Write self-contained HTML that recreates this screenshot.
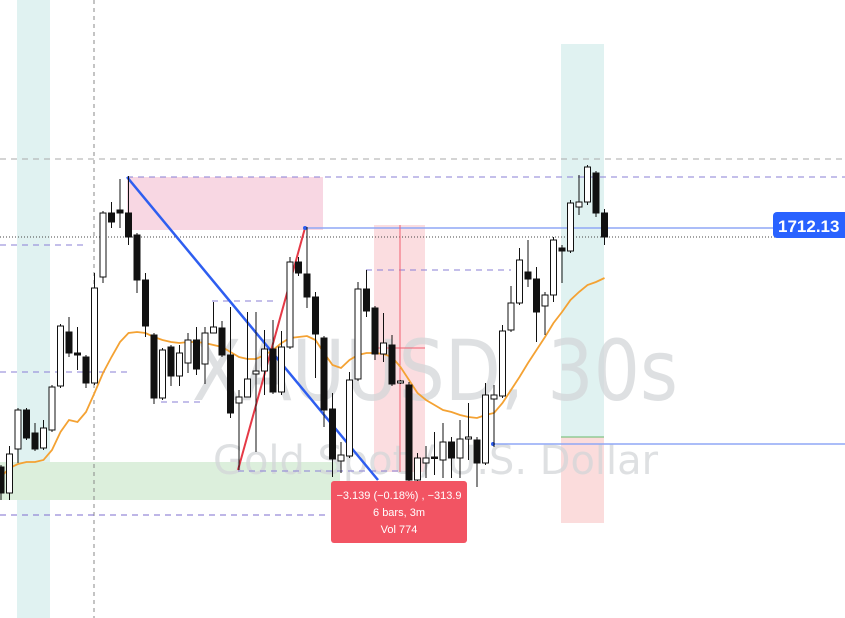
<!DOCTYPE html>
<html><head><meta charset="utf-8"><style>
html,body{margin:0;padding:0;background:#fff;width:845px;height:618px;overflow:hidden;font-family:"Liberation Sans",sans-serif}
</style></head><body>
<svg id="chart" width="845" height="618" viewBox="0 0 845 618" xmlns="http://www.w3.org/2000/svg">
<rect x="17" y="0" width="33" height="618" fill="#e0f2f1"/>
<rect x="561" y="44" width="43" height="393" fill="#e0f2f1"/>
<rect x="561" y="437" width="43" height="86" fill="#fbdcdc"/>
<line x1="561" y1="437" x2="604" y2="437" stroke="#66bb6a" stroke-width="1"/>
<rect x="127" y="177" width="196" height="53" fill="#f8d7e3"/>
<rect x="0" y="462" width="340" height="38" fill="#dcefdc"/>
<rect x="374" y="225" width="51" height="247" fill="#fbdde0"/>
<text x="192" y="400" font-size="84" fill="#d3d5d8" fill-opacity="0.75" textLength="486" lengthAdjust="spacingAndGlyphs" font-family="DejaVu Sans,sans-serif">XAUUSD, 30s</text>
<text x="213" y="474" font-size="40" fill="#d3d5d8" fill-opacity="0.75" textLength="445" lengthAdjust="spacingAndGlyphs" font-family="DejaVu Sans,sans-serif">Gold Spot / U.S. Dollar</text>
<line x1="94" y1="0" x2="94" y2="618" stroke="#888" stroke-dasharray="4,4"/>
<line x1="0" y1="159" x2="845" y2="159" stroke="#aaa" stroke-dasharray="6,5"/>
<line x1="0" y1="237" x2="845" y2="237" stroke="#444" stroke-dasharray="1,2"/>
<line x1="0" y1="515" x2="330" y2="515" stroke="#7e6ccf" stroke-dasharray="6,5"/>
<g stroke="#8a7fd6" stroke-dasharray="6,5" stroke-width="1">
<line x1="127" y1="177" x2="845" y2="177"/>
<line x1="0" y1="245" x2="84" y2="245"/>
<line x1="0" y1="372" x2="127" y2="372"/>
<line x1="212" y1="301" x2="277" y2="301"/>
<line x1="161" y1="402" x2="203" y2="402"/>
<line x1="366" y1="270" x2="511" y2="270"/>
<line x1="238" y1="471" x2="400" y2="471"/>
</g>
<line x1="127" y1="177" x2="378" y2="480" stroke="#2e5ef0" stroke-width="2.5"/>
<line x1="238" y1="470" x2="305" y2="228" stroke="#e53946" stroke-width="2"/>
<line x1="305" y1="228" x2="845" y2="228" stroke="#8fa7f5" stroke-width="1.5"/>
<circle cx="305" cy="228" r="2" fill="#2e5ef0"/>
<line x1="493" y1="444" x2="845" y2="444" stroke="#8fa7f5" stroke-width="1.5"/>
<circle cx="493" cy="444" r="2" fill="#2e5ef0"/>
<line x1="400" y1="225" x2="400" y2="472" stroke="#f06070" stroke-width="1"/>
<line x1="374" y1="348" x2="425" y2="348" stroke="#f06070" stroke-width="1"/>
<g id="ma"></g>
<g id="candles"></g>
<rect x="331" y="481" width="136" height="62" rx="3" fill="#f25463"/>
<text x="399" y="499" font-size="11" fill="#fff" text-anchor="middle">−3.139 (−0.18%) , −313.9</text>
<text x="399" y="516" font-size="11" fill="#fff" text-anchor="middle">6 bars, 3m</text>
<text x="399" y="533" font-size="11" fill="#fff" text-anchor="middle">Vol 774</text>
<rect x="773" y="212" width="80" height="26" rx="4" fill="#2962ff"/>
<text x="778" y="232" font-size="17" font-weight="bold" fill="#fff">1712.13</text>
</svg>
<script>
const opens=[133,107,151,190,167,152,170,214,268,247,243,217,323,387,390,387,365,320,265,202,253,224,237,260,236,267,272,245,197,203,226,229,251,208,253,338,326,303,262,191,139,144,221,311,292,246,255,217,215,120,137,143,140,158,142,161,160,137,201,204,270,297,328,321,294,305,352,349,393,398,427,387];
const highs=[135,154,192,192,177,180,215,276,283,273,245,327,389,398,421,424,367,327,267,252,255,255,267,273,273,298,279,293,210,288,288,270,280,269,343,343,373,308,264,207,158,228,318,330,294,287,265,220,218,147,154,168,177,163,180,197,163,217,215,275,314,352,360,333,308,363,355,400,425,435,429,391];
const lows=[100,100,137,160,149,150,168,212,243,230,212,215,317,372,372,355,307,263,196,200,214,214,227,225,216,267,243,182,130,203,148,205,206,205,251,324,292,222,173,123,127,142,219,283,240,238,214,216,110,118,122,125,122,122,122,140,113,135,153,202,268,295,313,258,265,298,317,347,385,395,383,355];
const closes=[107,146,190,162,151,172,213,274,247,245,217,312,387,378,387,363,320,274,202,250,224,247,260,231,267,273,245,187,203,221,229,251,208,253,338,327,303,266,190,141,145,220,311,289,246,257,216,219,120,142,142,142,158,142,161,163,137,205,205,269,297,340,321,288,305,360,349,397,398,433,387,363];
const maValues=[123,132,136,138,138,140,150,168,180,178,188,207,227,243,258,267,268,267,263,260,258,257,258,258,257,255,253,248,243,241,241,245,250,257,262,263,264,260,247,235,232,240,245,247,247,246,243,233,220,207,200,195,190,188,185,183,182,185,187,197,210,223,237,250,263,277,288,300,308,315,318,322];
const x0=1, step=8.5;
function xScale(i){return x0+i*step;}
function yScale(v){return 600-v;}
const NS='http://www.w3.org/2000/svg';
const cg=document.getElementById('candles');
for(let i=0;i<opens.length;i++){
  const x=xScale(i), up=closes[i]>=opens[i];
  const w=document.createElementNS(NS,'line');
  
  
  w.setAttribute('x1',x);w.setAttribute('x2',x);
  w.setAttribute('y1',yScale(highs[i]));w.setAttribute('y2',yScale(lows[i]));
  w.setAttribute('stroke','#111');w.setAttribute('stroke-width','1');
  cg.appendChild(w);
  const top=yScale(Math.max(opens[i],closes[i])), bot=yScale(Math.min(opens[i],closes[i]));
  const r=document.createElementNS(NS,'rect');
  
  
  r.setAttribute('x',x-3);r.setAttribute('y',top);
  r.setAttribute('width',6);r.setAttribute('height',Math.max(1.5,bot-top));
  r.setAttribute('fill',up?'#fff':'#111');r.setAttribute('stroke','#111');r.setAttribute('stroke-width','1');
  cg.appendChild(r);
}
const mg=document.getElementById('ma');
const p=document.createElementNS(NS,'path');


p.setAttribute('d',maValues.map((v,i)=>(i?'L':'M')+xScale(i)+','+yScale(v)).join(''));
p.setAttribute('fill','none');p.setAttribute('stroke','#f4a233');p.setAttribute('stroke-width','1.8');
mg.appendChild(p);
</script>
</body></html>
